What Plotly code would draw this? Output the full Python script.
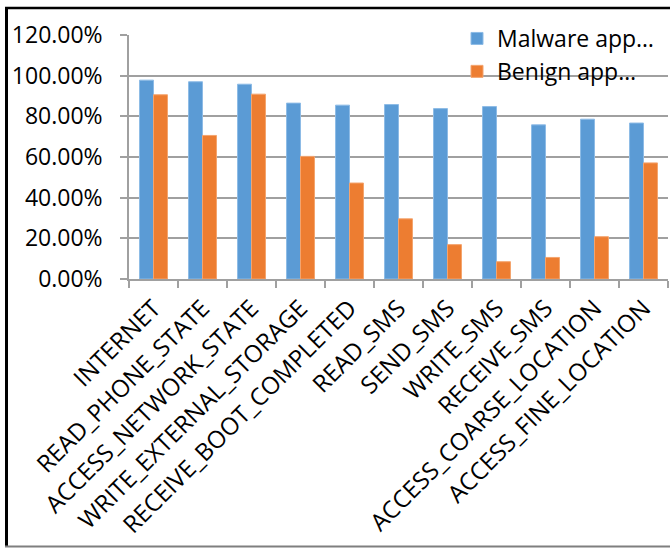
import plotly.graph_objects as go

categories = ["INTERNET", "READ_PHONE_STATE", "ACCESS_NETWORK_STATE",
              "WRITE_EXTERNAL_STORAGE", "RECEIVE_BOOT_COMPLETED", "READ_SMS",
              "SEND_SMS", "WRITE_SMS", "RECEIVE_SMS", "ACCESS_COARSE_LOCATION",
              "ACCESS_FINE_LOCATION"]
malware = [0.978, 0.970, 0.958, 0.865, 0.855, 0.858, 0.838, 0.848, 0.758, 0.786, 0.767]
benign = [0.906, 0.706, 0.909, 0.603, 0.472, 0.296, 0.169, 0.085, 0.106, 0.208, 0.571]
series_names = ["Malware app…", "Benign app…"]
y_ticks = [0, 0.2, 0.4, 0.6, 0.8, 1.0, 1.2]

W, H = 670, 548
L, R, T, B = 129, 2, 35, 269
pw, ph = W - L - R, H - T - B

def px(x):
    return (x - L) / pw

def py(y):
    return (H - B - y) / ph

FONT = "Open Sans"
fig = go.Figure()
fig.add_trace(go.Bar(x=categories, y=malware, name=series_names[0],
                     marker=dict(color="#5B9BD5", line=dict(color="#8DBBE6", width=1))))
fig.add_trace(go.Bar(x=categories, y=benign, name=series_names[1],
                     marker=dict(color="#ED7D31", line=dict(color="#F4A46E", width=1))))

fig.update_layout(
    width=W, height=H,
    margin=dict(l=L, r=R, t=T, b=B, autoexpand=False),
    paper_bgcolor="white", plot_bgcolor="white",
    font=dict(family=FONT, color="black", size=22),
    barmode="group", bargap=0.43, bargroupgap=0,
    showlegend=True,
    legend=dict(x=px(457), y=py(17), xanchor="left", yanchor="top",
                bgcolor="rgba(0,0,0,0)", font=dict(family=FONT, size=23, color="black"),
                itemwidth=30, tracegroupgap=0),
    xaxis=dict(type="category", tickangle=-45, tickson="boundaries",
               ticks="outside", ticklen=7, tickcolor="#A0A0A0", tickwidth=1.5,
               showline=True, linecolor="#A0A0A0", linewidth=1.5,
               showgrid=False, automargin=False, ticklabelstandoff=4,
               tickfont=dict(family=FONT, size=24, color="black")),
    yaxis=dict(range=[0, 1.2], tickvals=y_ticks, tickformat=".2%",
               ticks="outside", ticklen=7, tickcolor="#A0A0A0", tickwidth=1.5,
               showline=True, linecolor="#A0A0A0", linewidth=1.5,
               showgrid=True, gridcolor="#A0A0A0", gridwidth=1.5,
               zeroline=False, automargin=False, ticklabelstandoff=13,
               tickfont=dict(family=FONT, size=23, color="black")),
    shapes=[
        dict(type="line", xref="paper", yref="paper", x0=px(6.5), x1=px(6.5),
             y0=py(7), y1=py(546), line=dict(color="black", width=3)),
        dict(type="line", xref="paper", yref="paper", x0=px(5), x1=px(672),
             y0=py(8), y1=py(8), line=dict(color="black", width=2.5)),
        dict(type="line", xref="paper", yref="paper", x0=px(5), x1=px(672),
             y0=py(546.5), y1=py(546.5), line=dict(color="#7F7F7F", width=2)),
    ],
)

fig.write_html("out.html")
